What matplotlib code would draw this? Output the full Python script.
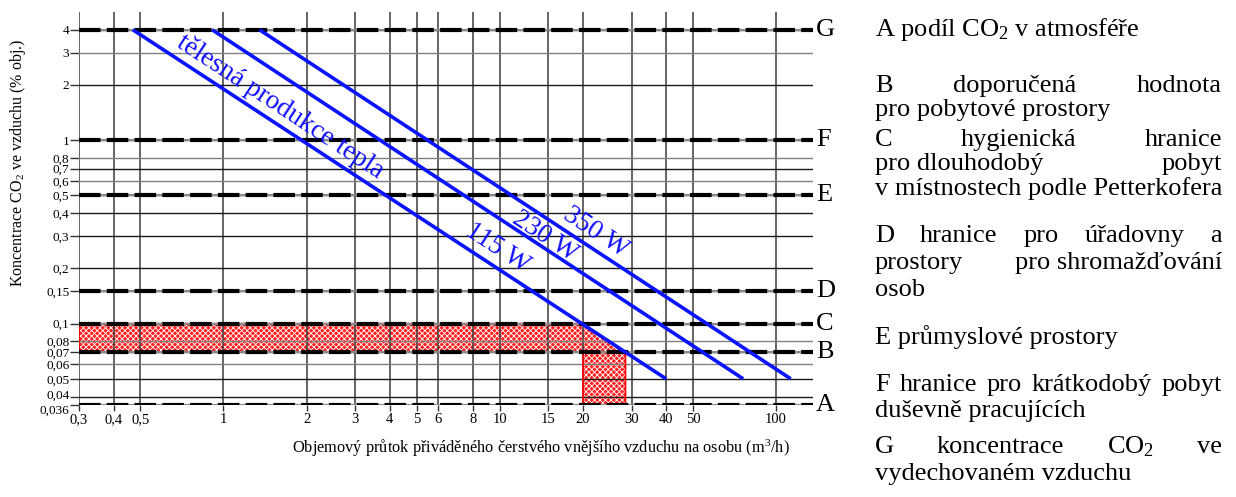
import matplotlib
matplotlib.use("Agg")
import matplotlib.pyplot as plt
import matplotlib.transforms as mtransforms
from matplotlib.ticker import NullLocator
from matplotlib.patches import Polygon

plt.rcParams['font.family'] = ['Liberation Serif', 'DejaVu Serif']
plt.rcParams['mathtext.fontset'] = 'custom'
plt.rcParams['mathtext.rm'] = 'Liberation Serif'
plt.rcParams['mathtext.it'] = 'Liberation Serif:italic'
plt.rcParams['lines.scale_dashes'] = False
plt.rcParams['hatch.linewidth'] = 0.6

##### DATA #####

x_ticks = [0.3, 0.4, 0.5, 1, 2, 3, 4, 5, 6, 8, 10, 15, 20, 30, 40, 50, 100]
x_labels = ["0,3", "0,4", "0,5", "1", "2", "3", "4", "5", "6", "8", "10", "15", "20", "30", "40", "50", "100"]
y_ticks = [4, 3, 2, 1, 0.8, 0.7, 0.6, 0.5, 0.4, 0.3, 0.2, 0.15, 0.1, 0.08, 0.07, 0.06, 0.05, 0.04, 0.036]
y_labels = ["4", "3", "2", "1", "0,8", "0,7", "0,6", "0,5", "0,4", "0,3", "0,2", "0,15", "0,1", "0,08", "0,07", "0,06", "0,05", "0,04", "0,036"]
y_grey = [3, 0.8, 0.6, 0.08, 0.06]

limit_names = ["A", "B", "C", "D", "E", "F", "G"]
limit_values = [0.036, 0.07, 0.1, 0.15, 0.5, 1, 4]

# body heat lines (flow m3/h, CO2 %)
flow_115 = [0.47, 40]
co2_115 = [4, 0.05]
flow_230 = [0.91, 76]
co2_230 = [4, 0.05]
flow_350 = [1.35, 113]
co2_350 = [4, 0.05]

# label positions (flow, CO2)
heat_labels = ["115 W", "230 W", "350 W"]
heat_label_x = [9.8, 14.6, 22.3]
heat_label_y = [0.258, 0.30, 0.315]

red_x = [0.3, 20, 28.5, 28.5, 20, 20, 0.3]
red_y = [0.1, 0.1, 0.07, 0.036, 0.036, 0.07, 0.07]

legend_lines = [
    (["A podíl CO$_2$ v atmosféře"], False, 30),
    (["B", "doporučená", "hodnota"], True, 86),
    (["pro pobytové prostory"], False, 110),
    (["C", "hygienická", "hranice"], True, 140),
    (["pro dlouhodobý", "pobyt"], True, 164),
    (["v místnostech podle Petterkofera"], False, 189),
    (["D", "hranice", "pro", "úřadovny", "a"], True, 236),
    (["prostory", "pro shromažďování"], True, 263),
    (["osob"], False, 290),
    (["E průmyslové prostory"], False, 338),
    (["F", "hranice", "pro", "krátkodobý", "pobyt"], True, 385),
    (["duševně pracujících"], False, 411),
    (["G", "koncentrace", "CO$_2$", "ve"], True, 447),
    (["vydechovaném vzduchu"], False, 474),
]

W, H = 1236, 497
fig = plt.figure(figsize=(W / 100, H / 100), dpi=100)
ax = fig.add_axes([79 / W, 1 - 405 / H, (813 - 79) / W, (405 - 12) / H])
ax.set_xscale('log')
ax.set_yscale('log')
ax.set_xlim(0.3, 136)
ax.set_ylim(0.036, 5.0)
for s in ax.spines.values():
    s.set_visible(False)

ax.set_xticks(x_ticks)
ax.set_xticklabels(x_labels)
ax.set_yticks(y_ticks)
ax.set_yticklabels(y_labels)
ax.xaxis.set_minor_locator(NullLocator())
ax.yaxis.set_minor_locator(NullLocator())
ax.tick_params(axis='x', length=4, width=1, color='#333333', pad=2, labelsize=10.5)
ax.tick_params(axis='y', length=6.5, width=1, color='#333333', pad=0.5, labelsize=9.5)

# nudge the two crowded bottom labels apart
fig.canvas.draw()
ylabs = ax.get_yticklabels()
ylabs[-1].set_transform(ylabs[-1].get_transform() +
                        mtransforms.ScaledTranslation(0, -3 / 72, fig.dpi_scale_trans))
ylabs[-2].set_transform(ylabs[-2].get_transform() +
                        mtransforms.ScaledTranslation(0, 2 / 72, fig.dpi_scale_trans))

# grid
for xv in x_ticks:
    ax.axvline(xv, color='#3a3a3a', lw=1.1, zorder=2)
for yv in y_ticks:
    c = '#808080' if yv in y_grey else '#1a1a1a'
    ax.axhline(yv, color=c, lw=1.0, zorder=2)

# red zone
ax.add_patch(Polygon(list(zip(red_x, red_y)), closed=True, facecolor='#ff1f1f',
                     edgecolor='white', hatch='xxxxxx', lw=0, zorder=1))
ax.add_patch(Polygon(list(zip(red_x, red_y)), closed=True, facecolor='none',
                     edgecolor='#ff0000', lw=1.2, zorder=3))

# limit lines
for name, v in zip(limit_names, limit_values):
    ax.axhline(v, color='#8a8a8a', lw=1.6, zorder=4)
    ax.axhline(v, color='black', lw=3.0, dashes=(15.5, 4.5), zorder=5)
    ax.text(1.004, v, name, transform=ax.get_yaxis_transform(), ha='left', va='center',
            fontsize=19, clip_on=False)

# body heat lines
for fx, cy in [(flow_115, co2_115), (flow_230, co2_230), (flow_350, co2_350)]:
    ax.plot(fx, cy, color='#0a14ff', lw=2.6, solid_capstyle='butt', zorder=6)

blue = '#1010ff'
ax.text(1.6, 1.52, "tělesná produkce tepla", color=blue, fontsize=19.5, rotation=-33.3,
        ha='center', va='center', rotation_mode='anchor', zorder=7)
for lab, lx, ly in zip(heat_labels, heat_label_x, heat_label_y):
    ax.text(lx, ly, lab, color=blue, fontsize=19.5, rotation=-33.3,
            ha='center', va='center', rotation_mode='anchor', zorder=7)

fig.text(541 / W, 1 - 448 / H,
         "Objemový průtok přiváděného čerstvého vnějšího vzduchu na osobu (m$^3$/h)",
         ha='center', va='center', fontsize=11.8)
fig.text(18 / W, 1 - 163 / H, "Koncentrace CO$_2$ ve vzduchu (% obj.)",
         ha='center', va='center', rotation=90, fontsize=11.5)

# legend text on the right, justified like the original
renderer = fig.canvas.get_renderer()
x_left, x_right = 875, 1222
leg_size = 19
for words, justify, yc in legend_lines:
    yb = 1 - (yc + 6) / H
    texts = [fig.text(0, yb, w, fontsize=leg_size, ha='left', va='baseline') for w in words]
    widths = [t.get_window_extent(renderer).width for t in texts]
    if justify and len(words) > 1:
        gap = (x_right - x_left - sum(widths)) / (len(words) - 1)
    else:
        gap = 0
    xp = x_left
    for t, w in zip(texts, widths):
        t.set_x(xp / W)
        xp += w + gap

fig.savefig("out.png", dpi=100)
